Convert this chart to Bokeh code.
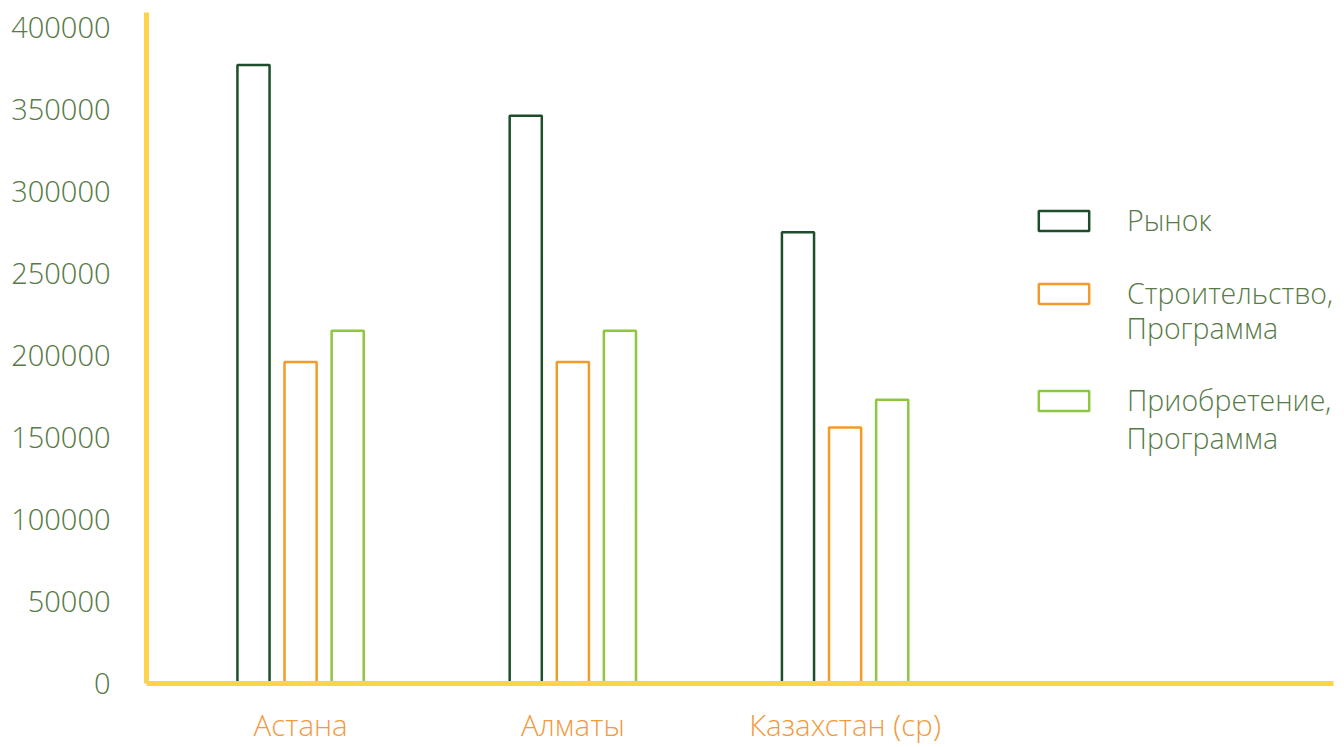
from bokeh.plotting import figure
from bokeh.models import Range1d, FixedTicker, Legend, LegendItem, NumeralTickFormatter, Label
from bokeh.transform import dodge
from bokeh.embed import file_html
from bokeh.resources import INLINE
from bokeh.models import ColumnDataSource

categories = ["Астана", "Алматы", "Казахстан (ср)"]
positions = [1, 2, 3]
market = [377000, 346000, 275000]
construction = [196000, 196000, 156000]
purchase = [215000, 215000, 173000]
series_first = ["Рынок", "Строительство,", "Приобретение,"]
series_second = ["", "Программа", "Программа"]
y_ticks = [0, 50000, 100000, 150000, 200000, 250000, 300000, 350000, 400000]

colors = ["#1e4d2b", "#f39a2b", "#8dc63f"]
text_green = "#587a47"
text_orange = "#f29a3c"
axis_yellow = "#ffd24c"
FONT = "Open Sans Light"

src = ColumnDataSource(dict(x=positions, market=market, construction=construction, purchase=purchase))

p = figure(width=1344, height=747, output_backend="svg", toolbar_location=None,
           x_range=Range1d(0.434, 4.794), y_range=Range1d(0, 409000),
           min_border_left=146, min_border_right=11, min_border_top=12, min_border_bottom=64)
p.outline_line_color = None
p.xgrid.visible = False
p.ygrid.visible = False
p.background_fill_color = "white"
p.border_fill_color = "white"

w = 0.118
renderers = []
for field, off, c in zip(["market", "construction", "purchase"], [-0.173, 0.0, 0.173], colors):
    r = p.vbar(x=dodge("x", off), top=field, bottom=0, width=w, source=src,
               fill_color=None, line_color=c, line_width=2.5)
    renderers.append(r)

# axes
p.yaxis.ticker = FixedTicker(ticks=y_ticks)
p.yaxis.formatter = NumeralTickFormatter(format="0")
p.yaxis.major_tick_line_color = None
p.yaxis.minor_tick_line_color = None
p.yaxis.axis_line_color = axis_yellow
p.yaxis.axis_line_width = 5
p.yaxis.major_label_text_font = FONT
p.yaxis.major_label_text_font_size = "29px"
p.yaxis.major_label_text_color = text_green
p.yaxis.major_label_standoff = 30

p.xaxis.ticker = FixedTicker(ticks=positions)
p.xaxis.major_label_overrides = {pos: lab for pos, lab in zip(positions, categories)}
p.xaxis.major_tick_line_color = None
p.xaxis.minor_tick_line_color = None
p.xaxis.axis_line_color = axis_yellow
p.xaxis.axis_line_width = 5
p.xaxis.major_label_text_font = FONT
p.xaxis.major_label_text_font_size = "29.5px"
p.xaxis.major_label_text_color = text_orange
p.xaxis.major_label_standoff = 14

# legend: one block per series so each box lines up with the first text line
legend_y = [443, 370, 263]
for name, r, ly in zip(series_first, renderers, legend_y):
    lg = Legend(items=[LegendItem(label=name, renderers=[r])],
                location=(886, ly), orientation="vertical",
                glyph_width=63, glyph_height=25, label_standoff=32, label_height=40,
                padding=0, margin=0, border_line_color=None, background_fill_alpha=0,
                label_text_font=FONT, label_text_font_size="28.5px", label_text_color=text_green)
    p.add_layout(lg, "center")

second_y = [None, 216400, 149900]
for txt, yy in zip(series_second, second_y):
    if txt:
        p.add_layout(Label(x=4.034, y=yy, text=txt, text_baseline="middle", text_align="left",
                           text_font=FONT, text_font_size="28.5px", text_color=text_green))

open("out.html", "w").write(file_html(p, INLINE))
